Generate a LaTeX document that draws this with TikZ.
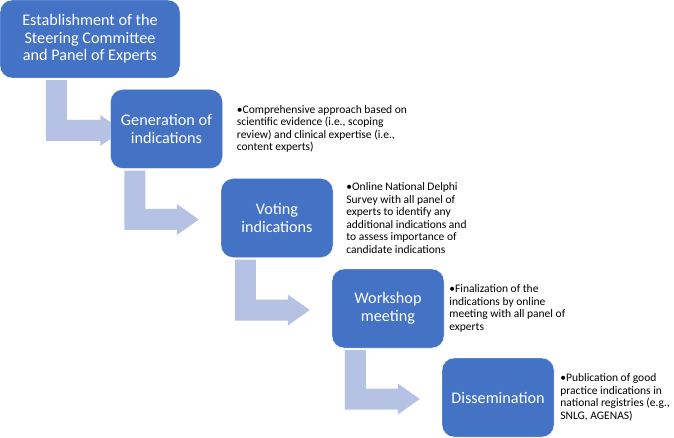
\documentclass[tikz,border=0pt]{standalone}
\usepackage{fontspec}
\setmainfont{Carlito}
\usetikzlibrary{backgrounds,positioning,calc}
\definecolor{stepblue}{RGB}{68,114,196}
\definecolor{flowblue}{RGB}{182,194,228}

% bent arrow from one box down and across to the next
% #1 from, #2 to, #3 shaft offset from #1.south west, #4 tip offset from #2.west
\newcommand{\bentarrow}[4]{%
  \fill[flow] let \p1=(#1.south west), \p2=(#2.west) in
    ({\x1+#3pt},{\y1-2pt}) -- ({\x1+#3pt+21pt},{\y1-2pt})
    -- ({\x1+#3pt+21pt},{\y2+9pt}) -- ({\x2+#4pt-22pt},{\y2+9pt})
    -- ({\x2+#4pt-22pt},{\y2+14pt}) -- ({\x2+#4pt},{\y2-1.5pt})
    -- ({\x2+#4pt-22pt},{\y2-17pt}) -- ({\x2+#4pt-22pt},{\y2-12pt})
    -- ({\x1+#3pt},{\y2-12pt}) -- cycle;}

\begin{document}
\begin{tikzpicture}[
  x=1pt, y=1pt,
  stepbox/.style={draw=white, fill=stepblue, rounded corners=12pt, text=white,
    minimum width=112pt, minimum height=79pt, align=center, inner sep=2pt,
    font=\fontsize{16.2}{17.6}\selectfont},
  note/.style={align=left, inner sep=0pt, font=\fontsize{11.5}{12.6}\selectfont},
  flow/.style={fill=flowblue}
]
\useasboundingbox (0,0) rectangle (674,-438);

% Steps
\node[stepbox, minimum width=180pt, minimum height=78pt] (est) at (90,-39)
  {Establishment of the\\Steering Committee\\and Panel of Experts};
\node[stepbox] (gen) at (166.5,-129) {Generation of\\indications};
\node[stepbox] (vote) at (277,-218) {Voting\\indications};
\node[stepbox] (wrk) at (388,-308.5) {Workshop\\meeting};
\node[stepbox] (dis) at (498,-397.5) {Dissemination};

% Descriptions
\node[note, right=14pt of gen] (gennote)
  {•Comprehensive approach based on\\scientific evidence (i.e., scoping\\review) and clinical expertise (i.e.,\\content experts)};
\node[note, right=13pt of vote] (votenote)
  {•Online National Delphi\\Survey with all panel of\\experts to identify any\\additional indications and\\to assess importance of\\candidate indications};
\node[note, right=5pt of wrk] (wrknote)
  {•Finalization of the\\indications by online\\meeting with all panel of\\experts};
\node[note, right=6pt of dis] (disnote)
  {•Publication of good\\practice indications in\\national registries (e.g.,\\SNLG, AGENAS)};

% Arrows
\begin{scope}[on background layer]
\bentarrow{est}{gen}{46}{12}
\bentarrow{gen}{vote}{14}{-22}
\bentarrow{vote}{wrk}{14}{-22}
\bentarrow{wrk}{dis}{13}{-22}
\end{scope}

\end{tikzpicture}
\end{document}
